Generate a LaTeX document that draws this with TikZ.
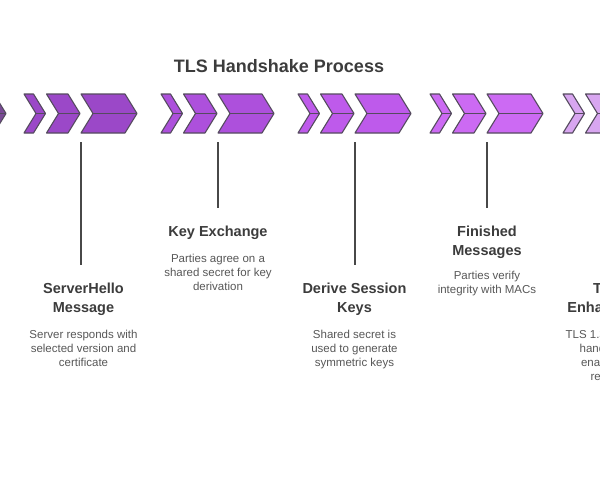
\documentclass[tikz,border=0pt]{standalone}
\usepackage{fontspec}
\setmainfont{Liberation Sans}
\usetikzlibrary{positioning}

\definecolor{grpA}{RGB}{122,74,150}
\definecolor{grpB}{RGB}{155,72,200}
\definecolor{grpC}{RGB}{173,80,220}
\definecolor{grpD}{RGB}{190,90,235}
\definecolor{grpE}{RGB}{204,106,243}
\definecolor{grpF}{RGB}{216,166,240}
\definecolor{edgecol}{RGB}{85,75,95}
\definecolor{headtxt}{RGB}{60,60,60}
\definecolor{desctxt}{RGB}{88,88,88}
\definecolor{stemcol}{RGB}{72,72,72}

\tikzset{
  chevbox/.style={draw=edgecol, line width=1.1pt, line join=round},
  titletext/.style={font=\bfseries\fontsize{18}{22}\selectfont, text=headtxt, anchor=base, inner sep=0pt},
  heading/.style={font=\bfseries\fontsize{14.5}{18.5}\selectfont, text=headtxt, align=center, anchor=base, inner sep=0pt},
  desc/.style={font=\fontsize{11.5}{14}\selectfont, text=desctxt, align=center, anchor=base, inner sep=0pt},
  stem/.style={draw=stemcol, line width=1.6pt},
}

% one chevron: left x, tip x, fill
\newcommand{\drawchev}[3]{%
  \filldraw[chevbox, fill=#3] (#1,94) -- (#2-12,94) -- (#2,113.5) -- (#2-12,133) -- (#1,133) -- (#1+12,113.5) -- cycle;
  \draw[edgecol, line width=0.9pt] (#1+12,113.5) -- (#2,113.5);
}
% three chevrons of one step
\newcommand{\chevgroup}[2]{%
  \drawchev{#1}{#1+21.5}{#2}
  \drawchev{#1+22.5}{#1+56}{#2}
  \drawchev{#1+57}{#1+113}{#2}
}

\begin{document}
\begin{tikzpicture}[x=1pt, y=-1pt]
        \fill[white] (0,0) rectangle (600,480);
        \path[use as bounding box, clip] (0,0) rectangle (600,480);

        % title
        \node[titletext] (title) at (279,72.7) {TLS Handshake Process};

        % chevrons
        \drawchev{-50}{6}{grpA}
        \chevgroup{24}{grpB}
        \chevgroup{161}{grpC}
        \chevgroup{298}{grpD}
        \chevgroup{430}{grpE}
        \drawchev{563}{584.5}{grpF}
        \drawchev{585.5}{619}{grpF}

        % stems
        \coordinate (s1) at (80.7,142);  \coordinate (e1) at (80.7,265);
        \coordinate (s2) at (218,142);   \coordinate (e2) at (218,208);
        \coordinate (s3) at (355,142);   \coordinate (e3) at (355,265);
        \coordinate (s4) at (486.7,142); \coordinate (e4) at (486.7,208);
        \foreach \i in {1,...,4}
            \draw[stem] (s\i) -- (e\i);

        % step texts (y = baseline of last line)
        \node[heading] (h1) at (83.5,312) {ServerHello\\Message};
        \node[desc] (d1) at (83.5,366.3) {Server responds with\\selected version and\\certificate};

        \node[heading] (h2) at (218,236.7) {Key Exchange};
        \node[desc] (d2) at (218,290.7) {Parties agree on a\\shared secret for key\\derivation};

        \node[heading] (h3) at (354.5,312) {Derive Session\\Keys};
        \node[desc] (d3) at (354.5,366.3) {Shared secret is\\used to generate\\symmetric keys};

        \node[heading] (h4) at (487,255.2) {Finished\\Messages};
        \node[desc] (d4) at (487,293) {Parties verify\\integrity with MACs};

        \node[heading] (h5) at (619,312) {TLS 1.3\\Enhancements};
        \node[desc] (d5) at (619,380.3) {TLS 1.3 shortens the\\handshake and\\enables 0-RTT\\resumption};
    \end{tikzpicture}
\end{document}
